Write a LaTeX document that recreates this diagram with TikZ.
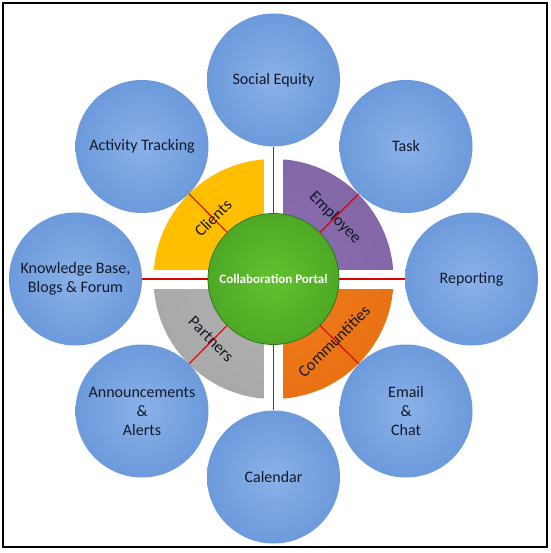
\documentclass[tikz,border=0pt]{standalone}
\usepackage{fontspec}
\setmainfont{Carlito}
\definecolor{bluein}{HTML}{8BB1E8}
\definecolor{blueout}{HTML}{4D83CF}
\definecolor{greenin}{HTML}{62C22E}
\definecolor{greenout}{HTML}{3A8E1E}
\definecolor{greenline}{HTML}{2F7A17}
\definecolor{goldin}{HTML}{FFC000}
\definecolor{goldout}{HTML}{FFBC00}
\definecolor{purpin}{HTML}{8B6FAF}
\definecolor{purpout}{HTML}{7A5E9C}
\definecolor{grayin}{HTML}{B2B2B2}
\definecolor{grayout}{HTML}{A0A0A0}
\definecolor{orgin}{HTML}{F27B1C}
\definecolor{orgout}{HTML}{E0680A}
\definecolor{linkred}{HTML}{E00000}
\definecolor{txt}{HTML}{111A2B}
\pgfdeclareradialshading{blueball}{\pgfpoint{0bp}{0bp}}{color(0bp)=(bluein); color(50bp)=(blueout)}
\pgfdeclareradialshading{greenball}{\pgfpoint{0bp}{0bp}}{color(0bp)=(greenin); color(50bp)=(greenout)}
\pgfdeclareradialshading{goldq}{\pgfpoint{0bp}{0bp}}{color(0bp)=(goldin); color(50bp)=(goldout)}
\pgfdeclareradialshading{purpq}{\pgfpoint{0bp}{0bp}}{color(0bp)=(purpin); color(50bp)=(purpout)}
\pgfdeclareradialshading{grayq}{\pgfpoint{0bp}{0bp}}{color(0bp)=(grayin); color(50bp)=(grayout)}
\pgfdeclareradialshading{orgq}{\pgfpoint{0bp}{0bp}}{color(0bp)=(orgin); color(50bp)=(orgout)}
\pgfdeclarelayer{bg}
\pgfsetlayers{bg,main}
\tikzset{
  outer/.style={circle, minimum size=133bp, inner sep=0pt, shading=blueball,
    align=center, text=txt, font=\fontsize{16bp}{19bp}\selectfont},
  hub/.style={circle, minimum size=131bp, inner sep=0pt, shading=greenball,
    draw=greenline, line width=0.8bp, text=white, font=\fontsize{13bp}{15bp}\selectfont\bfseries},
  qlabel/.style={text=txt, font=\fontsize{16.5bp}{18bp}\selectfont, inner sep=0pt},
  link/.style={draw=linkred, line width=1.1bp},
}
\begin{document}
\begin{tikzpicture}[x=1bp, y=-1bp]
\useasboundingbox (0,0) rectangle (551,553);

\coordinate (C) at (273.5,279);

% background and quarters
\begin{pgfonlayer}{bg}
\fill[white] (0,0) rectangle (551,553);
\begin{scope}
  \clip (263.5,269) rectangle (140,150);
  \shade[shading=goldq] (C) circle (120);
\end{scope}
\begin{scope}
  \clip (283.5,269) rectangle (400,150);
  \shade[shading=purpq] (C) circle (120);
\end{scope}
\begin{scope}
  \clip (263.5,289) rectangle (140,410);
  \shade[shading=grayq] (C) circle (120);
\end{scope}
\begin{scope}
  \clip (283.5,289) rectangle (400,410);
  \shade[shading=orgq] (C) circle (120);
\end{scope}
\end{pgfonlayer}

\draw[line width=1.5bp] (3.2,3.2) rectangle (547.2,547.2);

\node[hub] (hub) at (C) {Collaboration Portal};

\node[outer] (se) at (273.5,80) {Social Equity};
\node[outer] (task) at (406,146.5) {Task};
\node[outer] (rep) at (471.5,279) {Reporting};
\node[outer] (mail) at (406,411) {Email\\\&\\Chat};
\node[outer] (cal) at (273.5,477) {Calendar};
\node[outer] (ann) at (142,411) {Announcements\\\&\\Alerts};
\node[outer] (kb) at (75.5,279) {Knowledge Base,\\Blogs \& Forum};
\node[outer] (act) at (142,146.5) {Activity Tracking};

\foreach \t in {se,task,rep,mail,cal,ann,kb,act}
  \draw[link] (hub) -- (\t);

\node[qlabel, rotate=45] (ql1) at (213,218) {Clients};
\node[qlabel, rotate=-45] (ql2) at (335,218) {Employee};
\node[qlabel, rotate=-45] (ql3) at (211,339) {Partners};
\node[qlabel, rotate=45] (ql4) at (334,341) {Communtities};
\end{tikzpicture}
\end{document}
